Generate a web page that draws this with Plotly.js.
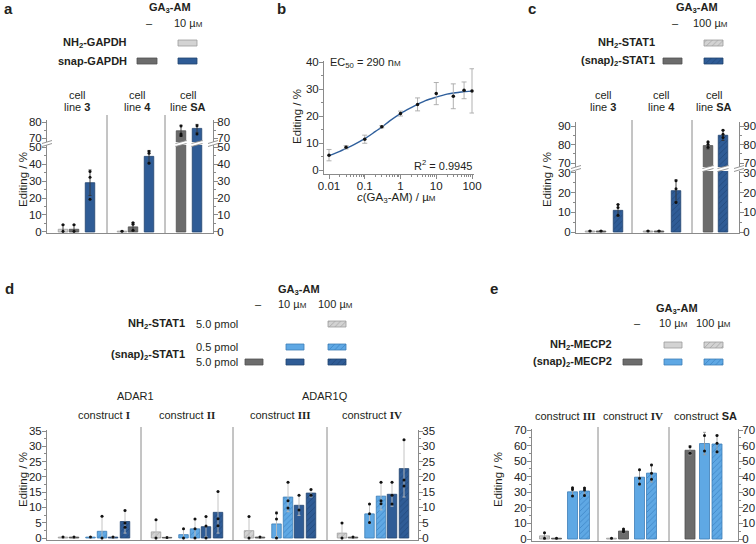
<!DOCTYPE html>
<html><head><meta charset="utf-8">
<script src="https://cdn.plot.ly/plotly-3.0.1.min.js"></script>
<style>html,body{margin:0;padding:0;background:#fff}#chart{width:756px;height:544px}</style>
</head><body><div id="chart"></div>
<script>
// ================= DATA =================
// Panel a (GAPDH) – groups: cell line 3, 4, SA
const aGroups = ['3', '4', 'SA'];
const aNH2_10 = [1.6, 0.5, null];
const aNH2_10Err = [2.6, null, null];
const aNH2_10Rep = [[4.3, 0.4], [0.5], []];
const aSnap0 = [1.6, 3.0, 74.5];
const aSnap0Err = [2.6, 2.5, 3.5];
const aSnap0Rep = [[4.3, 0.4], [5.5, 4.5, 1.0], [77.5, 72.5, 71.5]];
const aSnap10 = [29.0, 44.5, 76.0];
const aSnap10Err = [7.5, 3.5, 2.5];
const aSnap10Rep = [[35.6, 32.2, 19.2], [47.4, 46.4, 40.5], [77.7, 72.5]];

// Panel b – dose response
const bConc = [0.01, 0.03, 0.1, 0.3, 1, 3, 10, 30, 60, 100];
const bEdit = [5.5, 8.4, 11.4, 16.0, 20.9, 24.3, 28.3, 27.3, 29.5, 29.3];
const bErr = [2.1, 0.6, 1.5, 0.4, 0.9, 2.4, 4.1, 4.6, 3.1, 8.2];
const bFitConc = [0.01, 0.02, 0.03, 0.05, 0.1, 0.2, 0.3, 0.5, 1, 2, 3, 5, 10, 20, 30, 50, 100];
const bFitEdit = [5.3, 6.9, 8.0, 9.4, 11.6, 14.3, 15.9, 18.2, 20.9, 23.1, 24.3, 25.7, 27.0, 28.1, 28.5, 28.9, 29.2];

// Panel c (STAT1) – groups: cell line 3, 4, SA
const cGroups = ['3', '4', 'SA'];
const cNH2_100 = [0.5, 0.5, null];
const cNH2_100Err = [null, null, null];
const cNH2_100Rep = [[0.5], [0.5], []];
const cSnap0 = [0.5, 0.5, 79.4];
const cSnap0Err = [null, null, 1.8];
const cSnap0Rep = [[0.5], [0.5], [81.5, 80.1, 78.5]];
const cSnap100 = [11.0, 21.0, 85.0];
const cSnap100Err = [3.0, 5.5, 2.8];
const cSnap100Rep = [[14.0, 12.5, 8.5], [26.0, 22.0, 15.0], [87.7, 85.6, 83.8]];

// Panel d (ADAR1 / ADAR1Q) – constructs I, II, III, IV
const dGroups = ['I', 'II', 'III', 'IV'];
const dNH2_5_100 = [0.3, 2.0, 2.4, 1.6];
const dNH2_5_100Err = [null, 4.0, 4.6, 3.4];
const dNH2_5_100Rep = [[0.3], [6.0, 0.0], [7.0, 0.0], [4.9, 0.0]];
const dSnap5_0 = [0.3, 0.2, 0.3, 0.3];
const dSnap5_0Err = [null, null, null, null];
const dSnap5_0Rep = [[0.3], [0.2], [0.3], [0.3]];
const dSnap05_10 = [0.3, 1.1, 4.6, 7.9];
const dSnap05_10Err = [null, 1.9, 4.1, 3.2];
const dSnap05_10Rep = [[0.3], [3.0, 0.0], [8.2, 6.2, 0.0], [11.1, 7.9, 5.1]];
const dSnap05_100 = [2.2, 3.0, 13.4, 13.7];
const dSnap05_100Err = [4.9, 3.2, 4.8, 4.5];
const dSnap05_100Rep = [[7.1, 0.0], [6.2, 3.0, 0.0], [18.2, 12.2, 9.8], [18.2, 12.2, 11.2]];
const dSnap5_10 = [0.3, 3.7, 10.7, 14.3];
const dSnap5_10Err = [null, 3.3, 3.3, 3.9];
const dSnap5_10Rep = [[0.3], [7.0, 3.9, 0.0], [14.0, 9.2], [18.2, 14.0, 11.1]];
const dSnap5_100 = [5.4, 8.4, 14.7, 22.7];
const dSnap5_100Err = [3.8, 6.8, 1.3, 9.3];
const dSnap5_100Rep = [[9.0, 4.9, 3.5], [15.2, 6.3, 4.0], [15.9, 14.0], [32.1, 19.0, 17.0]];

// Panel e (MECP2) – constructs III, IV, SA
const eGroups = ['III', 'IV', 'SA'];
const eNH2_10 = [null, 0.5, null];
const eNH2_10Err = [null, null, null];
const eNH2_10Rep = [[], [0.5], []];
const eNH2_100 = [2.0, null, null];
const eNH2_100Err = [2.0, null, null];
const eNH2_100Rep = [[4.0, 0.5], [], []];
const eSnap0 = [0.5, 5.1, 57.0];
const eSnap0Err = [null, 1.2, 3.0];
const eSnap0Rep = [[0.5], [6.4, 5.3, 4.7], [59.3, 55.0]];
const eSnap10 = [30.3, 39.7, 61.3];
const eSnap10Err = [2.5, 5.1, 7.2];
const eSnap10Rep = [[32.9, 31.8, 27.6], [44.4, 39.0, 35.4], [66.4, 56.5]];
const eSnap100 = [30.8, 42.3, 61.0];
const eSnap100Err = [2.0, 5.7, 5.8];
const eSnap100Rep = [[32.7, 31.4, 28.0], [47.6, 42.3, 38.4], [66.4, 61.5, 56.1]];

// ================= STYLE / LAYOUT HELPERS =================
const W = 756, H = 544;
const FONT = 'Liberation Sans, Arial, Helvetica, sans-serif';
const TXT = '#231f20';
const AXC = '#8a8a8a';
const TICKF = {family: FONT, size: 11.5, color: '#222'};
const UM = 'µ<span style="font-size:8px">M</span>';
const dom = (a, b) => [a / W, b / W];
const ydom = (top, bot) => [1 - bot / H, 1 - top / H];

const ST = {
  lg:  {color: '#d3d3d3', line: '#9d9d9d'},
  lgh: {color: '#d3d3d3', line: '#9d9d9d', pat: '#a8a8a8'},
  dg:  {color: '#6c6c6c', line: '#525252'},
  db:  {color: '#2f5c96', line: '#22446f'},
  dbh: {color: '#2f5c96', line: '#22446f', pat: '#234a7c'},
  lb:  {color: '#5fa8e4', line: '#3d7db6'},
  lbh: {color: '#5fa8e4', line: '#3d7db6', pat: '#3f88c8'}
};
const patOf = st => st.pat ? {shape: '/', fillmode: 'replace', bgcolor: st.color, fgcolor: st.pat, size: 4, solidity: 0.22} : undefined;

const traces = [], shapes = [], annotations = [];

function T(x, y, text, o = {}) {
  annotations.push({xref: 'x8', yref: 'y14', x, y, text, showarrow: false,
    xanchor: o.xa || 'center', yanchor: 'middle', textangle: o.angle || 0,
    font: {family: o.family || FONT, size: o.size || 11, color: TXT}});
}
function swatch(x0, x1, yc, st) {
  const tr = {type: 'scatter', mode: 'lines', xaxis: 'x8', yaxis: 'y14',
    x: [x0, x1, x1, x0, x0], y: [yc - 3, yc - 3, yc + 3, yc + 3, yc - 3],
    fill: 'toself', fillcolor: st.color, line: {color: st.line, width: 0.8}, hoverinfo: 'skip'};
  if (st.pat) tr.fillpattern = {shape: '/', fillmode: 'replace', bgcolor: st.color, fgcolor: st.pat, size: 4, solidity: 0.22};
  traces.push(tr);
}
function breakMark(xref, x, hw, yc) {
  const p = `M${x - hw},${yc} L${x + hw},${yc - 3} L${x + hw},${yc} L${x - hw},${yc + 3} Z`;
  shapes.push({type: 'path', xref, yref: 'y14', path: p, fillcolor: '#fff', line: {width: 0}, layer: 'above'});
  shapes.push({type: 'line', xref, yref: 'y14', x0: x - hw, x1: x + hw, y0: yc, y1: yc - 3, line: {color: AXC, width: 0.9}, layer: 'above'});
  shapes.push({type: 'line', xref, yref: 'y14', x0: x - hw, x1: x + hw, y0: yc + 3, y1: yc, line: {color: AXC, width: 0.9}, layer: 'above'});
}
function sep(xref, x, top, bot) {
  shapes.push({type: 'line', xref, yref: 'y14', x0: x, x1: x, y0: top, y1: bot, line: {color: AXC, width: 1}});
}
// positions from group index and slot offset
function positions(starts, offs, s) {
  return starts.map((g, i) => offs[i][s] == null ? null : g + offs[i][s]);
}
function barSeries(pairs, pos, vals, errs, reps, st, errColor, bw) {
  const xs = [], ys = [], es = [], dx = [], dy = [];
  vals.forEach((v, i) => {
    if (v === null || pos[i] === null) return;
    xs.push(pos[i]); ys.push(v); es.push(errs[i]);
    reps[i].forEach(r => { dx.push(pos[i]); dy.push(r); });
  });
  pairs.forEach(([xaxis, yaxis]) => {
    const m = {color: st.color, line: {color: st.line, width: 0.8}};
    const pt = patOf(st); if (pt) m.pattern = pt;
    traces.push({type: 'bar', x: xs, y: ys, width: bw, xaxis, yaxis, marker: m,
      error_y: {type: 'data', array: es, visible: true, color: errColor, thickness: 0.9, width: 1.5}, hoverinfo: 'skip'});
    traces.push({type: 'scatter', mode: 'markers', x: dx, y: dy, xaxis, yaxis,
      marker: {color: '#111', size: 3}, hoverinfo: 'skip'});
  });
}
function yAx(d, range, dtick, minorD, anchor, side, overlaying) {
  const a = {range, anchor, side: side || 'left', showline: true, linecolor: AXC, linewidth: 1,
    ticks: 'outside', ticklen: 4, tickwidth: 1, tickcolor: AXC, tick0: 0, dtick,
    ticklabelstandoff: side === 'right' ? -3 : -2, ticklabeloverflow: 'allow',
    tickfont: TICKF, showgrid: false, zeroline: false, fixedrange: true,
    minor: {ticks: 'outside', ticklen: 2, tickwidth: 1, tickcolor: AXC, dtick: minorD, tick0: 0, showgrid: false}};
  if (overlaying) a.overlaying = overlaying; else a.domain = d;
  return a;
}
function xBar(d, w, anchor, visible) {
  return {domain: d, range: [0, w], anchor, visible: true, showline: visible, linecolor: AXC,
    ticks: '', showticklabels: false, showgrid: false, zeroline: false, fixedrange: true};
}

// ================= PANEL A =================
const aStart = [0, 59, 118];
const aOff = [[16, 27, 43], [16, 27, 43], [null, 16, 32]];
const aPairs = [['x', 'y'], ['x2', 'y3']];
barSeries(aPairs, positions(aStart, aOff, 0), aNH2_10, aNH2_10Err, aNH2_10Rep, ST.lg, '#333', 9.5);
barSeries(aPairs, positions(aStart, aOff, 1), aSnap0, aSnap0Err, aSnap0Rep, ST.dg, '#333', 9.5);
barSeries(aPairs, positions(aStart, aOff, 2), aSnap10, aSnap10Err, aSnap10Rep, ST.db, '#333', 9.5);
[positions(aStart, aOff, 1), positions(aStart, aOff, 2)].forEach((p, k) => {
  const v = k === 0 ? aSnap0 : aSnap10;
  v.forEach((val, i) => { if (val !== null && val > 67.5) breakMark('x2', p[i], 5.5, 143.5); });
});
breakMark('x8', 47, 5, 143.5); breakMark('x8', 213, 5, 143.5);
sep('x', 60, 115, 233); sep('x', 118, 115, 233);
T(2, 8, '<b>a</b>', {xa: 'left', size: 15});
T(170, 8, '<b>GA<sub>3</sub>-AM</b>');
T(149, 23, '–'); T(188, 23, '10 ' + UM);
T(129, 43, '<b>NH<sub>2</sub>-GAPDH</b>', {xa: 'right'});
T(129, 61, '<b>snap-GAPDH</b>', {xa: 'right'});
swatch(178, 197, 43, ST.lg); swatch(137, 157, 61, ST.dg); swatch(178, 197, 61, ST.db);
[77, 137, 188].forEach((x, i) => { T(x, 95, 'cell'); T(x, 107, 'line <b>' + aGroups[i] + '</b>'); });
T(23, 180, 'Editing / %', {angle: -90, size: 11.5});

// ================= PANEL B =================
traces.push({type: 'scatter', mode: 'lines', x: bFitConc, y: bFitEdit, xaxis: 'x5', yaxis: 'y9',
  line: {color: '#2f5f9c', width: 1.4, shape: 'spline', smoothing: 1}, hoverinfo: 'skip'});
traces.push({type: 'scatter', mode: 'markers', x: bConc, y: bEdit, xaxis: 'x5', yaxis: 'y9',
  marker: {color: '#111', size: 3.5},
  error_y: {type: 'data', array: bErr, color: '#a8a8a8', thickness: 0.9, width: 2.5}, hoverinfo: 'skip'});
T(275, 8, '<b>b</b>', {xa: 'left', size: 15});
T(328, 63, 'EC<sub>50</sub> = 290 n<span style="font-size:8px">M</span>', {xa: 'left'});
T(474, 165, 'R<sup>2</sup> = 0.9945', {xa: 'right'});
T(396, 198, '<i>c</i>(GA<sub>3</sub>-AM) / ' + UM, {size: 11.5});
T(297, 117, 'Editing / %', {angle: -90, size: 11.5});
const bMinor = [];
for (let d = -2; d < 2; d++) for (let k = 2; k <= 9; k++) bMinor.push(k * Math.pow(10, d));

// ================= PANEL C =================
const cStart = [0, 58, 116];
const cOff = [[14, 25, 42], [14, 25, 42], [null, 16, 31]];
const cPairs = [['x3', 'y5'], ['x4', 'y7']];
barSeries(cPairs, positions(cStart, cOff, 0), cNH2_100, cNH2_100Err, cNH2_100Rep, ST.lgh, '#333', 9.5);
barSeries(cPairs, positions(cStart, cOff, 1), cSnap0, cSnap0Err, cSnap0Rep, ST.dg, '#333', 9.5);
barSeries(cPairs, positions(cStart, cOff, 2), cSnap100, cSnap100Err, cSnap100Rep, ST.dbh, '#333', 9.5);
[positions(cStart, cOff, 1), positions(cStart, cOff, 2)].forEach((p, k) => {
  const v = k === 0 ? cSnap0 : cSnap100;
  v.forEach((val, i) => { if (val !== null && val > 68) breakMark('x4', p[i], 5.5, 168.5); });
});
breakMark('x8', 576, 5, 168.5); breakMark('x8', 739, 5, 168.5);
sep('x3', 56, 120, 233); sep('x3', 116, 120, 233);
T(526, 8, '<b>c</b>', {xa: 'left', size: 15});
T(697, 8, '<b>GA<sub>3</sub>-AM</b>');
T(675, 23, '–'); T(710, 23, '100 ' + UM);
T(657, 43, '<b>NH<sub>2</sub>-STAT1</b>', {xa: 'right'});
T(657, 61, '<b>(snap)<sub>2</sub>-STAT1</b>', {xa: 'right'});
swatch(704, 723, 43, ST.lgh); swatch(663, 682, 61, ST.dg); swatch(704, 723, 61, ST.dbh);
[603, 661, 714].forEach((x, i) => { T(x, 95, 'cell'); T(x, 107, 'line <b>' + cGroups[i] + '</b>'); });
T(547, 180, 'Editing / %', {angle: -90, size: 11.5});

// ================= PANEL D =================
const R = s => '<span style="font-family:Liberation Serif"><b>' + s + '</b></span>';
const dStart = [0, 93, 186, 279];
const dRow = [16, 27, 43.5, 55, 66, 78];
const dOff = [dRow, dRow, dRow, dRow];
const dP = [['x6', 'y10']];
const dErrC = '#bdbdbd';
barSeries(dP, positions(dStart, dOff, 0), dNH2_5_100, dNH2_5_100Err, dNH2_5_100Rep, ST.lgh, dErrC, 9.5);
barSeries(dP, positions(dStart, dOff, 1), dSnap5_0, dSnap5_0Err, dSnap5_0Rep, ST.dg, dErrC, 9.5);
barSeries(dP, positions(dStart, dOff, 2), dSnap05_10, dSnap05_10Err, dSnap05_10Rep, ST.lb, dErrC, 9.5);
barSeries(dP, positions(dStart, dOff, 3), dSnap05_100, dSnap05_100Err, dSnap05_100Rep, ST.lbh, dErrC, 9.5);
barSeries(dP, positions(dStart, dOff, 4), dSnap5_10, dSnap5_10Err, dSnap5_10Rep, ST.db, dErrC, 9.5);
barSeries(dP, positions(dStart, dOff, 5), dSnap5_100, dSnap5_100Err, dSnap5_100Rep, ST.dbh, dErrC, 9.5);
[94, 186, 280].forEach(x => sep('x6', x, 427, 540));
T(3, 288, '<b>d</b>', {xa: 'left', size: 15});
T(299, 290, '<b>GA<sub>3</sub>-AM</b>');
T(258, 304, '–'); T(292, 304, '10 ' + UM); T(335, 304, '100 ' + UM);
T(187, 324, '<b>NH<sub>2</sub>-STAT1</b>', {xa: 'right'}); T(194, 324, '5.0 pmol', {xa: 'left'});
T(187, 355, '<b>(snap)<sub>2</sub>-STAT1</b>', {xa: 'right'});
T(194, 347, '0.5 pmol', {xa: 'left'}); T(194, 362, '5.0 pmol', {xa: 'left'});
swatch(328, 346, 324, ST.lgh);
swatch(286, 304, 347, ST.lb); swatch(328, 346, 347, ST.lbh);
swatch(245, 263, 362, ST.dg); swatch(286, 304, 362, ST.db); swatch(328, 346, 362, ST.dbh);
T(135, 396, 'ADAR1'); T(325, 396, 'ADAR1Q');
[104, 187, 280, 372].forEach((x, i) => T(x, 415, 'construct ' + R(dGroups[i])));
T(23, 480, 'Editing / %', {angle: -90, size: 11.5});

// ================= PANEL E =================
const eStart = [0, 67, 137];
const eOff = [[null, 12.5, 24.5, 40.5, 52.5], [12.5, null, 24.5, 40.5, 52.5], [null, null, 21, 35.5, 48]];
const eP = [['x7', 'y12']];
const eErrC = '#9a9a9a';
barSeries(eP, positions(eStart, eOff, 0), eNH2_10, eNH2_10Err, eNH2_10Rep, ST.lg, eErrC, 10);
barSeries(eP, positions(eStart, eOff, 1), eNH2_100, eNH2_100Err, eNH2_100Rep, ST.lgh, eErrC, 10);
barSeries(eP, positions(eStart, eOff, 2), eSnap0, eSnap0Err, eSnap0Rep, ST.dg, eErrC, 10);
barSeries(eP, positions(eStart, eOff, 3), eSnap10, eSnap10Err, eSnap10Rep, ST.lb, eErrC, 10);
barSeries(eP, positions(eStart, eOff, 4), eSnap100, eSnap100Err, eSnap100Rep, ST.lbh, eErrC, 10);
[66, 137].forEach(x => sep('x7', x, 427, 541));
T(488, 288, '<b>e</b>', {xa: 'left', size: 15});
T(677, 309, '<b>GA<sub>3</sub>-AM</b>');
T(637, 323, '–'); T(673, 323, '10 ' + UM); T(713, 323, '100 ' + UM);
T(614, 345, '<b>NH<sub>2</sub>-MECP2</b>', {xa: 'right'});
T(614, 362, '<b>(snap)<sub>2</sub>-MECP2</b>', {xa: 'right'});
swatch(664, 682, 345, ST.lg); swatch(704, 723, 345, ST.lgh);
swatch(623, 642, 362, ST.dg); swatch(664, 682, 362, ST.lb); swatch(704, 723, 362, ST.lbh);
T(565, 416, 'construct ' + R(eGroups[0])); T(633, 416, 'construct ' + R(eGroups[1])); T(705, 416, 'construct <b>' + eGroups[2] + '</b>');
T(498, 480, 'Editing / %', {angle: -90, size: 11.5});

// empty traces so that right-side axes get drawn
[['x', 'y2'], ['x2', 'y4'], ['x3', 'y6'], ['x4', 'y8'], ['x6', 'y11'], ['x7', 'y13']].forEach(([xa, ya]) =>
  traces.push({type: 'scatter', mode: 'markers', x: [], y: [], xaxis: xa, yaxis: ya, hoverinfo: 'skip'}));

// ================= LAYOUT =================
const layout = {
  width: W, height: H, margin: {l: 0, r: 0, t: 0, b: 0},
  paper_bgcolor: '#fff', plot_bgcolor: 'rgba(0,0,0,0)', showlegend: false, barmode: 'overlay',
  font: {family: FONT, size: 11, color: TXT},
  // a
  xaxis: xBar(dom(47, 213), 166, 'y', true),
  yaxis: yAx(ydom(145, 233), [-0.6, 51.2], 10, 5, 'x'),
  yaxis2: yAx(null, [-0.6, 51.2], 10, 5, 'x', 'right', 'y'),
  xaxis2: xBar(dom(47, 213), 166, 'y3', false),
  yaxis3: yAx(ydom(120, 142), [67.5, 81.25], 10, 5, 'x2'),
  yaxis4: yAx(null, [67.5, 81.25], 10, 5, 'x2', 'right', 'y3'),
  // c
  xaxis3: xBar(dom(576, 739), 163, 'y5', true),
  yaxis5: yAx(ydom(171, 233), [-0.51, 31.0], 10, 5, 'x3'),
  yaxis6: yAx(null, [-0.51, 31.0], 10, 5, 'x3', 'right', 'y5'),
  xaxis4: xBar(dom(576, 739), 163, 'y7', false),
  yaxis7: yAx(ydom(122, 167), [67.84, 92.16], 10, 5, 'x4'),
  yaxis8: yAx(null, [67.84, 92.16], 10, 5, 'x4', 'right', 'y7'),
  // b
  xaxis5: {domain: dom(324, 474), type: 'log', range: [-2.14, 2.056], anchor: 'y9',
    showline: true, linecolor: AXC, ticks: 'outside', ticklen: 4, tickcolor: AXC,
    tickmode: 'array', tickvals: [0.01, 0.1, 1, 10, 100], ticktext: ['0.01', '0.1', '1', '10', '100'],
    ticklabelstandoff: -3, ticklabeloverflow: 'allow',
    tickfont: TICKF, showgrid: false, zeroline: false,
    minor: {ticks: 'outside', ticklen: 2, tickcolor: AXC, tickmode: 'array', tickvals: bMinor, showgrid: false}},
  yaxis9: yAx(ydom(61, 174), [-1.48, 40.37], 10, 5, 'x5'),
  // d
  xaxis6: xBar(dom(47, 418), 371, 'y10', true),
  yaxis10: yAx(ydom(430, 540), [-0.65, 35.33], 5, 2.5, 'x6'),
  yaxis11: yAx(null, [-0.65, 35.33], 5, 2.5, 'x6', 'right', 'y10'),
  // e
  xaxis7: xBar(dom(532, 738), 206, 'y12', true),
  yaxis12: yAx(ydom(429, 541), [-1.28, 70.64], 10, 5, 'x7'),
  yaxis13: yAx(null, [-1.28, 70.64], 10, 5, 'x7', 'right', 'y12'),
  // overlay in pixel units (for legends / labels)
  xaxis8: {domain: [0, 1], range: [0, W], anchor: 'y14', visible: false, fixedrange: true},
  yaxis14: {domain: [0, 1], range: [H, 0], anchor: 'x8', visible: false, fixedrange: true},
  annotations, shapes
};

Plotly.newPlot('chart', traces, layout, {staticPlot: true, displayModeBar: false});
</script>
</body></html>
